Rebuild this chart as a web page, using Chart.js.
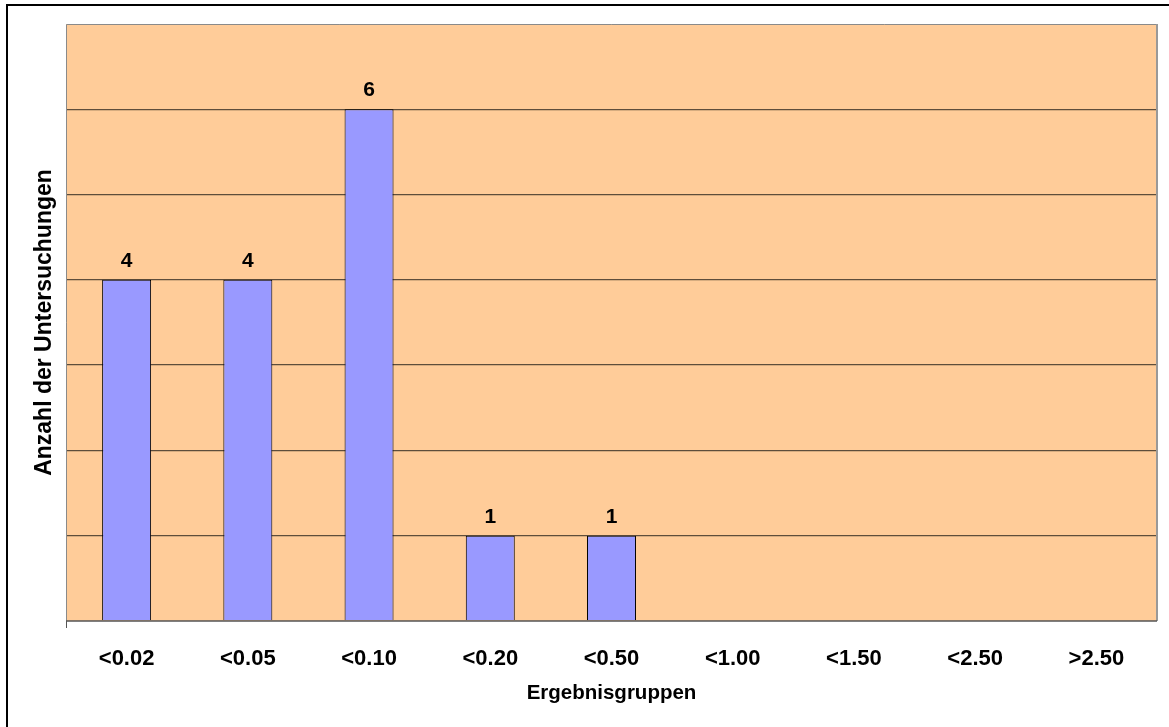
<!DOCTYPE html>
<html>
<head>
<meta charset="utf-8">
<script src="https://cdn.jsdelivr.net/npm/chart.js@4"></script>
<style>
html,body{margin:0;padding:0;background:#fff;}
#wrap{width:1169px;height:727px;position:relative;}
</style>
</head>
<body>
<div id="wrap"><canvas id="c" width="1169" height="727"></canvas></div>
<script>
const categories = ['<0.02','<0.05','<0.10','<0.20','<0.50','<1.00','<1.50','<2.50','>2.50'];
const counts = [4, 4, 6, 1, 1, null, null, null, null];
const yTicks = [0, 1, 2, 3, 4, 5, 6, 7];
const xTitle = 'Ergebnisgruppen';
const yTitle = 'Anzahl der Untersuchungen';

const FONT = "'Liberation Sans', Arial, sans-serif";

const frame = {
  id: 'frame',
  beforeDraw(chart) {
    const ctx = chart.ctx, a = chart.chartArea;
    ctx.save();
    ctx.fillStyle = '#fff';
    ctx.fillRect(0, 0, chart.width, chart.height);
    ctx.fillStyle = '#FFCC99';
    ctx.fillRect(a.left, a.top, a.right - a.left, a.bottom - a.top);
    ctx.strokeStyle = '#000';
    ctx.lineWidth = 2;
    ctx.strokeRect(7, 5, 1170, 730);
    ctx.restore();
  },
  afterDatasetsDraw(chart) {
    const ctx = chart.ctx, a = chart.chartArea;
    ctx.save();
    ctx.strokeStyle = '#8a8a8a';
    ctx.lineWidth = 1;
    ctx.beginPath();
    ctx.moveTo(a.left + 0.5, a.bottom);
    ctx.lineTo(a.left + 0.5, a.top + 0.5);
    ctx.lineTo(a.right, a.top + 0.5);
    ctx.stroke();
    ctx.strokeStyle = '#999';
    ctx.lineWidth = 2;
    ctx.beginPath();
    ctx.moveTo(a.right, a.top);
    ctx.lineTo(a.right, a.bottom);
    ctx.stroke();
    ctx.strokeStyle = '#555';
    ctx.lineWidth = 1.5;
    ctx.beginPath();
    ctx.moveTo(a.left, a.bottom);
    ctx.lineTo(a.right, a.bottom);
    ctx.stroke();
    // data labels
    const meta = chart.getDatasetMeta(0);
    ctx.fillStyle = '#000';
    ctx.font = 'bold 21px ' + FONT;
    ctx.textAlign = 'center';
    ctx.textBaseline = 'alphabetic';
    meta.data.forEach((bar, i) => {
      const v = chart.data.datasets[0].data[i];
      if (v == null) return;
      ctx.fillText(String(v), bar.x, bar.y - 13);
    });
    ctx.restore();
  }
};

new Chart(document.getElementById('c'), {
  type: 'bar',
  data: {
    labels: categories,
    datasets: [{
      data: counts,
      backgroundColor: '#9999FF',
      borderColor: '#000',
      borderWidth: 1,
      barPercentage: 0.404,
      categoryPercentage: 1.0
    }]
  },
  options: {
    responsive: false,
    animation: false,
    layout: { padding: { left: 0, right: 12, top: 24, bottom: 0 } },
    plugins: { legend: { display: false }, tooltip: { enabled: false } },
    scales: {
      x: {
        offset: true,
        grid: {
          offset: true,
          drawOnChartArea: false,
          tickLength: 7,
          color: (c) => c.index === 0 ? '#555' : 'rgba(0,0,0,0)'
        },
        border: { display: false },
        ticks: {
          color: '#000',
          padding: 18,
          font: { family: FONT, size: 22, weight: 'bold' },
          maxRotation: 0, autoSkip: false
        },
        title: {
          display: true, text: xTitle, color: '#000',
          font: { family: FONT, size: 20.5, weight: 'bold' },
          padding: { top: 0, bottom: 21 }
        },
        afterFit(s) { s.height = 106; }
      },
      y: {
        min: 0, max: 7,
        afterBuildTicks(s) { s.ticks = yTicks.map(v => ({ value: v })); },
        ticks: { display: false },
        grid: {
          color: (c) => (c.tick && (c.tick.value === 7 || c.tick.value === 0)) ? 'rgba(0,0,0,0)' : '#5e4d3b',
          lineWidth: 1.3,
          drawTicks: false
        },
        border: { display: false },
        title: {
          display: true, text: yTitle, color: '#000',
          font: { family: FONT, size: 23, weight: 'bold' },
          padding: { top: 31, bottom: 0 }
        },
        afterFit(s) { s.width = 66; }
      }
    }
  },
  plugins: [frame]
});
</script>
</body>
</html>
